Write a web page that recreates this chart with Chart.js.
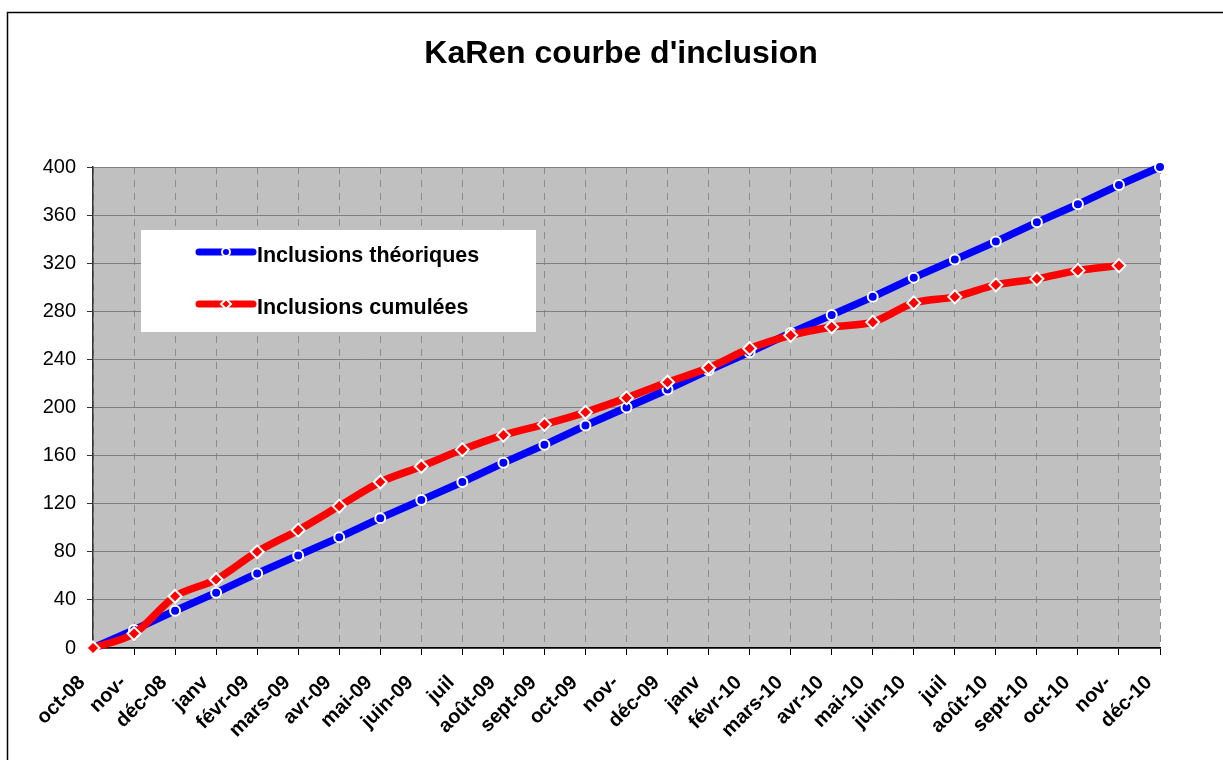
<!DOCTYPE html>
<html lang="fr">
<head>
<meta charset="utf-8">
<title>KaRen courbe d'inclusion</title>
<script src="https://cdn.jsdelivr.net/npm/chart.js@4.4.1/dist/chart.umd.min.js"></script>
<style>
  html, body { margin: 0; padding: 0; background: #fff; }
  #wrap { position: relative; width: 1223px; height: 760px; }
</style>
</head>
<body>
<div id="wrap"><canvas id="chart" width="1223" height="760"></canvas></div>
<script>
const chartTitle = "KaRen courbe d'inclusion";

const months = ["oct-08", "nov-08", "déc-08", "janv-09", "févr-09", "mars-09", "avr-09",
  "mai-09", "juin-09", "juil-09", "août-09", "sept-09", "oct-09", "nov-09", "déc-09",
  "janv-10", "févr-10", "mars-10", "avr-10", "mai-10", "juin-10", "juil-10", "août-10",
  "sept-10", "oct-10", "nov-10", "déc-10"];

// labels as they show on the axis (some are cut off in the original)
const tickLabels = ["oct-08", "nov-", "déc-08", "janv", "févr-09", "mars-09", "avr-09",
  "mai-09", "juin-09", "juil", "août-09", "sept-09", "oct-09", "nov-", "déc-09",
  "janv", "févr-10", "mars-10", "avr-10", "mai-10", "juin-10", "juil", "août-10",
  "sept-10", "oct-10", "nov-", "déc-10"];

const theoriques = [0, 15, 31, 46, 62, 77, 92, 108, 123, 138, 154, 169, 185, 200, 215,
  231, 246, 262, 277, 292, 308, 323, 338, 354, 369, 385, 400];

const cumulees = [0, 12, 43, 57, 80, 98, 118, 138, 151, 165, 177, 186, 196, 208, 221,
  233, 249, 260, 267, 271, 287, 292, 302, 307, 314, 318, null];

const seriesNames = ["Inclusions théoriques", "Inclusions cumulées"];

const FONT = '"Liberation Sans", Arial, sans-serif';

// grey plot area, outer frame and title
const backgroundPlugin = {
  id: "background",
  beforeDraw(chart) {
    const { ctx, chartArea } = chart;
    ctx.save();
    ctx.fillStyle = "#c0c0c0";
    ctx.fillRect(chartArea.left, chartArea.top,
      chartArea.right - chartArea.left, chartArea.bottom - chartArea.top);

    ctx.strokeStyle = "#000";
    ctx.lineWidth = 1.5;
    ctx.beginPath();
    ctx.moveTo(7.5, 760);
    ctx.lineTo(7.5, 12.5);
    ctx.lineTo(1223, 12.5);
    ctx.stroke();

    ctx.fillStyle = "#000";
    ctx.font = "bold 32px " + FONT;
    ctx.textAlign = "center";
    ctx.textBaseline = "middle";
    ctx.fillText(chartTitle, 621, 54);
    ctx.restore();
  }
};

// legend box inside the plot
const legendPlugin = {
  id: "boxLegend",
  afterDraw(chart) {
    const { ctx } = chart;
    ctx.save();
    ctx.fillStyle = "#fff";
    ctx.fillRect(141, 230, 395, 102);

    const rows = [252, 304];
    chart.data.datasets.forEach((ds, i) => {
      const y = rows[i];
      ctx.strokeStyle = ds.borderColor;
      ctx.lineWidth = 7;
      ctx.lineCap = "round";
      ctx.beginPath();
      ctx.moveTo(199, y);
      ctx.lineTo(253, y);
      ctx.stroke();

      ctx.fillStyle = ds.pointBackgroundColor;
      ctx.strokeStyle = "#fff";
      ctx.lineWidth = 2;
      ctx.beginPath();
      if (ds.pointStyle === "rectRot") {
        ctx.moveTo(226, y - 5);
        ctx.lineTo(231, y);
        ctx.lineTo(226, y + 5);
        ctx.lineTo(221, y);
        ctx.closePath();
      } else {
        ctx.arc(226, y, 4, 0, Math.PI * 2);
      }
      ctx.fill();
      ctx.stroke();

      ctx.fillStyle = "#000";
      ctx.font = "bold 21.5px " + FONT;
      ctx.textAlign = "left";
      ctx.textBaseline = "alphabetic";
      ctx.fillText(ds.label, 257, y + 10);
    });
    ctx.restore();
  }
};

new Chart(document.getElementById("chart"), {
  type: "line",
  data: {
    labels: months,
    datasets: [
      {
        label: seriesNames[0],
        data: theoriques,
        borderColor: "#0000ff",
        borderWidth: 7.5,
        borderCapStyle: "round",
        borderJoinStyle: "round",
        tension: 0,
        pointStyle: "circle",
        pointRadius: 5,
        pointBackgroundColor: "#0000ff",
        pointBorderColor: "#fff",
        pointBorderWidth: 2,
        order: 2,
        clip: false,
      },
      {
        label: seriesNames[1],
        data: cumulees,
        borderColor: "#ff0000",
        borderWidth: 7.5,
        borderCapStyle: "round",
        borderJoinStyle: "round",
        tension: 0.3,
        pointStyle: "rectRot",
        pointRadius: 6.5,
        pointBackgroundColor: "#ff0000",
        pointBorderColor: "#fff",
        pointBorderWidth: 2,
        order: 1,
        clip: false,
      },
    ],
  },
  options: {
    responsive: false,
    devicePixelRatio: 1,
    animation: false,
    layout: {
      padding: { top: 167, right: 63, bottom: 0, left: 0 },
    },
    plugins: {
      legend: { display: false },
      title: { display: false },
      tooltip: { enabled: false },
    },
    scales: {
      x: {
        offset: false,
        afterFit: (scale) => { scale.height = 112; },
        grid: {
          color: "#8c8c8c",
          lineWidth: 1,
          tickColor: "#000",
          tickLength: 7,
          tickWidth: 1,
        },
        border: { display: true, color: "#000", width: 1.5, dash: [7, 6] },
        ticks: {
          autoSkip: false,
          minRotation: 45,
          maxRotation: 45,
          padding: 16,
          labelOffset: -11,
          color: "#000",
          font: { family: FONT, size: 20, weight: "bold" },
          callback: (value, index) => tickLabels[index],
        },
      },
      y: {
        min: 0,
        max: 400,
        afterFit: (scale) => { scale.width = 93; },
        grid: {
          color: "#808080",
          lineWidth: 1,
          tickColor: "#333",
          tickLength: 6,
        },
        border: { display: true, color: "#333", width: 1.5 },
        ticks: {
          stepSize: 40,
          padding: 11,
          color: "#000",
          font: { family: FONT, size: 20 },
        },
      },
    },
  },
  plugins: [backgroundPlugin, legendPlugin],
});
</script>
</body>
</html>
